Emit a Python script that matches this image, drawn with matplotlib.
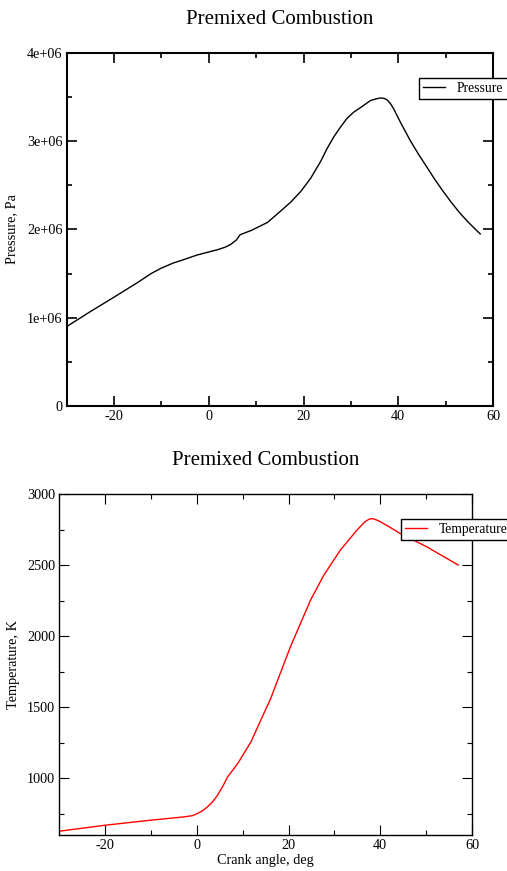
"""
plot.py - premixed combustion: pressure / temperature vs crank angle
"""
import numpy as np
import matplotlib
matplotlib.use("Agg")
import matplotlib.pyplot as plt
from matplotlib.ticker import MultipleLocator, FuncFormatter

# pressure trace (crank angle deg, Pa)
p_angle = [-30, -25, -19.8, -15, -12.2, -10.1, -7.5, -5.2, -2.5, 0, 1.8,
           3.5, 4.6, 5.8, 6.6, 9, 12.4, 15.2, 17.3, 19.4, 21.5, 23.6, 25,
           26.4, 27.8, 29.2, 30.6, 32.0, 34.1, 35.3, 36.2, 37.0, 37.6, 38.3,
           39.0, 40.4, 42.5, 44.3, 46.0, 47.8, 49.5, 51.3, 53.1, 55.0, 56.9,
           57.3]
pressure = [0.90e6, 1.07e6, 1.24e6, 1.40e6, 1.50e6, 1.56e6, 1.62e6, 1.66e6,
            1.71e6, 1.745e6, 1.77e6, 1.80e6, 1.83e6, 1.88e6, 1.94e6, 1.99e6,
            2.08e6, 2.21e6, 2.31e6, 2.43e6, 2.58e6, 2.77e6, 2.92e6,
            3.05e6, 3.16e6, 3.26e6, 3.33e6, 3.38e6, 3.46e6, 3.48e6, 3.49e6,
            3.485e6, 3.47e6, 3.43e6, 3.37e6, 3.22e6, 3.01e6, 2.85e6, 2.71e6,
            2.56e6, 2.43e6, 2.30e6, 2.18e6, 2.07e6, 1.97e6, 1.95e6]

# temperature trace (crank angle deg, K)
t_angle = [-30, -20, -10.2, -3, -1, 0.1, 1.2, 2.3, 3.4, 4.5, 5.6, 6.7, 8.9,
           11.8, 14.6, 16.1, 17.5, 20.4, 22.6, 24.8, 27.7, 31.3, 34.9, 36.5,
           37.3, 37.8, 38.4, 39, 40, 42, 44.3, 50.1, 57]
temperature = [627, 669, 704, 727, 736, 751, 770, 798, 833, 880, 940, 1009,
               1103, 1256, 1456, 1561, 1680, 1925, 2090, 2254, 2430, 2606,
               2746, 2800, 2818, 2826, 2826, 2820, 2805, 2768, 2723, 2629,
               2500]

TITLE = "Premixed Combustion"
DPI = 100


def setup_matplotlib():
    plt.rcParams.update({
        "font.family": ["Liberation Serif", "DejaVu Serif"],
        "axes.unicode_minus": False,
        "figure.facecolor": "white",
        "axes.facecolor": "white",
        "xtick.direction": "in",
        "ytick.direction": "in",
        "xtick.top": True,
        "ytick.right": True,
        "xtick.labelsize": 10.3,
        "ytick.labelsize": 10.3,
        "xtick.major.size": 7.2,
        "ytick.major.size": 7.2,
        "xtick.minor.size": 3.6,
        "ytick.minor.size": 3.6,
        "xtick.major.pad": 3,
        "ytick.major.pad": 3,
        "axes.labelsize": 10.3,
    })


def style_axes(ax, lw):
    for s in ax.spines.values():
        s.set_linewidth(lw)
    ax.tick_params(which="both", width=lw * 0.8)
    ax.xaxis.set_major_locator(MultipleLocator(20))
    ax.xaxis.set_minor_locator(MultipleLocator(10))
    ax.set_xlim(-30, 60)
    ax.set_title(TITLE, fontsize=15, pad=21)


def add_legend(fig, ax, x_px, y_px):
    fig_w, fig_h = fig.get_size_inches() * DPI
    ax.legend(loc="upper left",
              bbox_to_anchor=(x_px / fig_w, 1 - y_px / fig_h),
              bbox_transform=fig.transFigure,
              fontsize=9.8, frameon=True, fancybox=False, framealpha=1,
              edgecolor="black", borderaxespad=0, borderpad=0.3,
              handlelength=1.6, handletextpad=0.9)
    ax.get_legend().get_frame().set_linewidth(1.0)


def main():
    setup_matplotlib()
    fig = plt.figure(figsize=(5.07, 8.71), dpi=DPI)

    # --- pressure ---
    ax1 = fig.add_axes([0.1316, 0.5339, 0.8408, 0.4053])
    ax1.plot(p_angle, pressure, color="black", lw=1.0, label="Pressure")
    style_axes(ax1, 1.5)
    ax1.set_ylim(0, 4e6)
    ax1.yaxis.set_major_locator(MultipleLocator(1e6))
    ax1.yaxis.set_minor_locator(MultipleLocator(0.5e6))
    ax1.yaxis.set_major_formatter(FuncFormatter(
        lambda v, _: "0" if v == 0 else f"{v / 1e6:.0f}e+06"))
    ax1.set_ylabel("Pressure, Pa")
    ax1.yaxis.set_label_coords(-0.114, 0.5)
    add_legend(fig, ax1, 419, 78)

    # --- temperature ---
    ax2 = fig.add_axes([0.117, 0.0413, 0.814, 0.3915])
    ax2.plot(t_angle, temperature, color="red", lw=1.0, label="Temperature")
    style_axes(ax2, 1.0)
    ax2.set_ylim(600, 3000)
    ax2.yaxis.set_major_locator(MultipleLocator(500))
    ax2.yaxis.set_minor_locator(MultipleLocator(250))
    ax2.set_ylabel("Temperature, K")
    ax2.yaxis.set_label_coords(-0.095, 0.5)
    ax2.set_xlabel("Crank angle, deg", labelpad=1)
    add_legend(fig, ax2, 401, 519)

    fig.savefig("out.png", dpi=DPI)
    plt.close(fig)


if __name__ == "__main__":
    main()
